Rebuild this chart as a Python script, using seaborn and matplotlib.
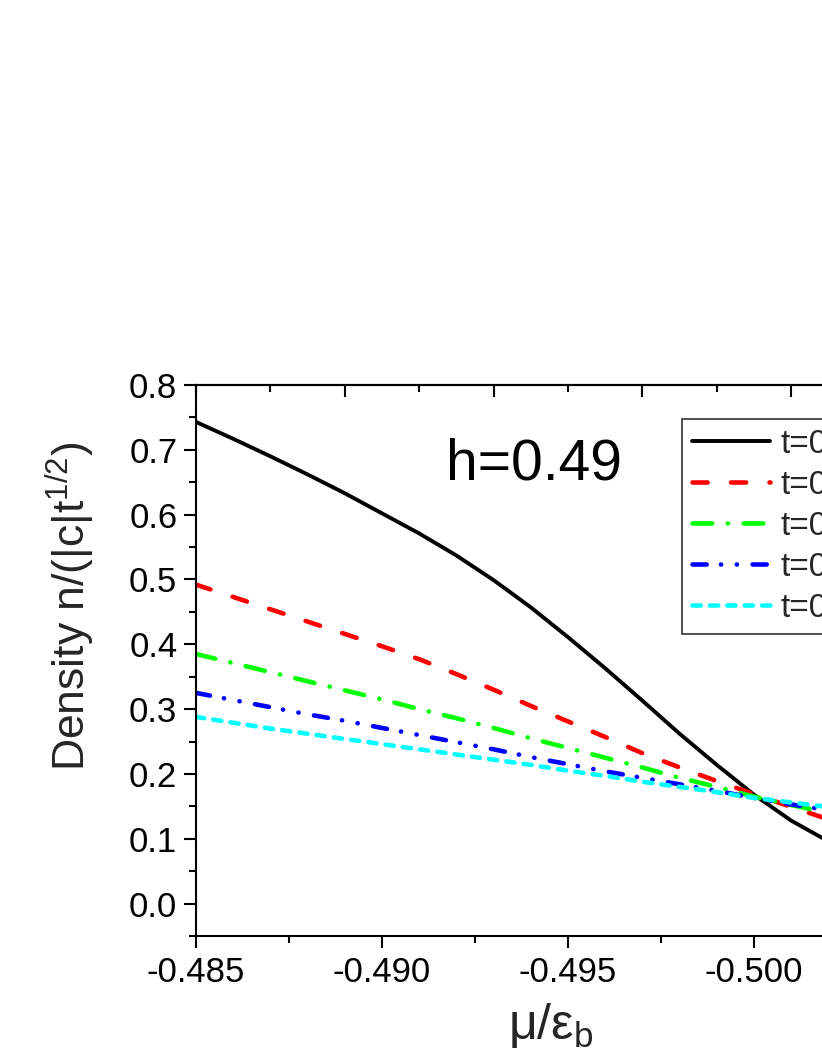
import numpy as np
import pandas as pd
import matplotlib
matplotlib.use("Agg")
import matplotlib.pyplot as plt
import seaborn as sns
from matplotlib.ticker import MultipleLocator, FormatStrFormatter, FixedLocator

# ---- data ----
mu = [-0.485, -0.486, -0.487, -0.488, -0.489, -0.490, -0.491, -0.492, -0.493, -0.494,
      -0.495, -0.496, -0.497, -0.498, -0.499, -0.500, -0.501, -0.502, -0.503]
n_black = [0.743, 0.717, 0.690, 0.662, 0.633, 0.602, 0.571, 0.537, 0.499, 0.457,
           0.411, 0.363, 0.313, 0.262, 0.214, 0.168, 0.128, 0.096, 0.070]
n_red = [0.492, 0.473, 0.454, 0.435, 0.416, 0.397, 0.377, 0.354, 0.330, 0.305,
         0.281, 0.257, 0.232, 0.210, 0.189, 0.169, 0.149, 0.130, 0.112]
n_green = [0.385, 0.371, 0.357, 0.343, 0.329, 0.315, 0.300, 0.286, 0.271, 0.255,
           0.240, 0.225, 0.210, 0.194, 0.180, 0.165, 0.152, 0.140, 0.129]
n_blue = [0.325, 0.314, 0.303, 0.292, 0.282, 0.271, 0.260, 0.249, 0.238, 0.226,
          0.215, 0.204, 0.194, 0.184, 0.174, 0.163, 0.153, 0.144, 0.135]
n_cyan = [0.288, 0.279, 0.270, 0.262, 0.254, 0.246, 0.238, 0.230, 0.222, 0.214,
          0.205, 0.197, 0.188, 0.180, 0.172, 0.163, 0.156, 0.149, 0.142]
labels = ["t=0.01", "t=0.02", "t=0.03", "t=0.04", "t=0.05"]
series = [n_black, n_red, n_green, n_blue, n_cyan]

y_ticks_fmt = "%.1f"
x_ticks_fmt = "%.3f"
annotation = "h=0.49"

# ---- styles ----
colors = ["#000000", "#FF0000", "#00FF00", "#0000FF", "#00FFFF"]
dash_styles = ["", (3.3, 5.1), (4.3, 3.4, 0.05, 3.4), (3.1, 3.1, 0.05, 3.4, 0.05, 3.4), (1.8, 2.0)]
widths = [2.8, 3.3, 3.3, 3.3, 3.3]

df = pd.concat([pd.DataFrame({"mu": mu, "n": v, "t": lab}) for v, lab in zip(series, labels)],
               ignore_index=True)

sns.set_theme(style="ticks")
plt.rcParams.update({
    "font.family": ["Liberation Sans", "DejaVu Sans"],
    "mathtext.fontset": "custom",
    "mathtext.rm": "Liberation Sans",
    "mathtext.it": "Liberation Sans",
    "mathtext.default": "regular",
    "axes.unicode_minus": False,
    "axes.edgecolor": "black",
    "axes.linewidth": 1.5,
    "xtick.color": "black",
    "ytick.color": "black",
})

fig = plt.figure(figsize=(8.22, 10.64), dpi=100)
ax = fig.add_axes([196 / 822, 128 / 1064, 744 / 822, 551 / 1064])

sns.lineplot(data=df, x="mu", y="n", hue="t", style="t", hue_order=labels, style_order=labels,
             palette=dict(zip(labels, colors)), dashes=dict(zip(labels, dash_styles)),
             estimator=None, sort=False, legend=False, ax=ax)

for line, lab, w in zip(ax.lines, labels, widths):
    line.set_label(lab)
    line.set_linewidth(w)
    line.set_dash_capstyle("round")
    line.set_solid_capstyle("round")
    line.set_solid_joinstyle("round")

ax.set_xlim(-0.485, -0.505)
ax.set_ylim(-0.05, 0.8)

ax.xaxis.set_major_locator(MultipleLocator(0.005))
ax.xaxis.set_minor_locator(MultipleLocator(0.0025))
ax.xaxis.set_major_formatter(FormatStrFormatter(x_ticks_fmt))
ax.yaxis.set_major_locator(MultipleLocator(0.1))
ax.yaxis.set_minor_locator(MultipleLocator(0.05))
ax.yaxis.set_major_formatter(FormatStrFormatter(y_ticks_fmt))

ax.tick_params(axis="both", which="major", direction="out", length=8.5, width=1.5,
               labelsize=25, top=False, right=False)
ax.tick_params(axis="x", which="major", pad=6)
ax.tick_params(axis="y", which="major", pad=5)
ax.tick_params(axis="both", which="minor", direction="out", length=5, width=1.5,
               top=False, right=False)

for sp in ax.spines.values():
    sp.set_visible(True)
    sp.set_linewidth(1.5)
    sp.set_color("black")

# top axis ticks (inward)
sec = ax.secondary_xaxis("top")
sec.xaxis.set_major_locator(FixedLocator([-0.485, -0.489, -0.493, -0.497, -0.501, -0.505]))
sec.xaxis.set_minor_locator(FixedLocator([-0.487, -0.491, -0.495, -0.499, -0.503]))
sec.tick_params(axis="x", which="major", direction="in", length=8.5, width=1.5, labeltop=False)
sec.tick_params(axis="x", which="minor", direction="in", length=5, width=1.5)
sec.spines["top"].set_linewidth(1.5)

ax.set_ylabel("Density n/(|c|t$^{1/2}$)", fontsize=32)
ax.yaxis.label.set_verticalalignment("center")
ax.yaxis.set_label_coords(-0.169, 0.599)

ax.set_xlabel("$μ/ε_b$", fontsize=36)
ax.xaxis.set_label_coords(0.477, -0.118)

ax.text(0.454, 0.829, annotation, transform=ax.transAxes, ha="center", va="baseline",
        fontsize=41, color="black")

leg = ax.legend(loc="upper left", bbox_to_anchor=(682 / 822, 1 - 419 / 1064),
                bbox_transform=fig.transFigure, frameon=True, fancybox=False,
                edgecolor="#333333", framealpha=1, borderpad=0.3, handlelength=2.35,
                handletextpad=0.3, labelspacing=0.3, borderaxespad=0, fontsize=24)
leg.get_frame().set_linewidth(1.2)

fig.savefig("out.png", dpi=100, facecolor="white")
